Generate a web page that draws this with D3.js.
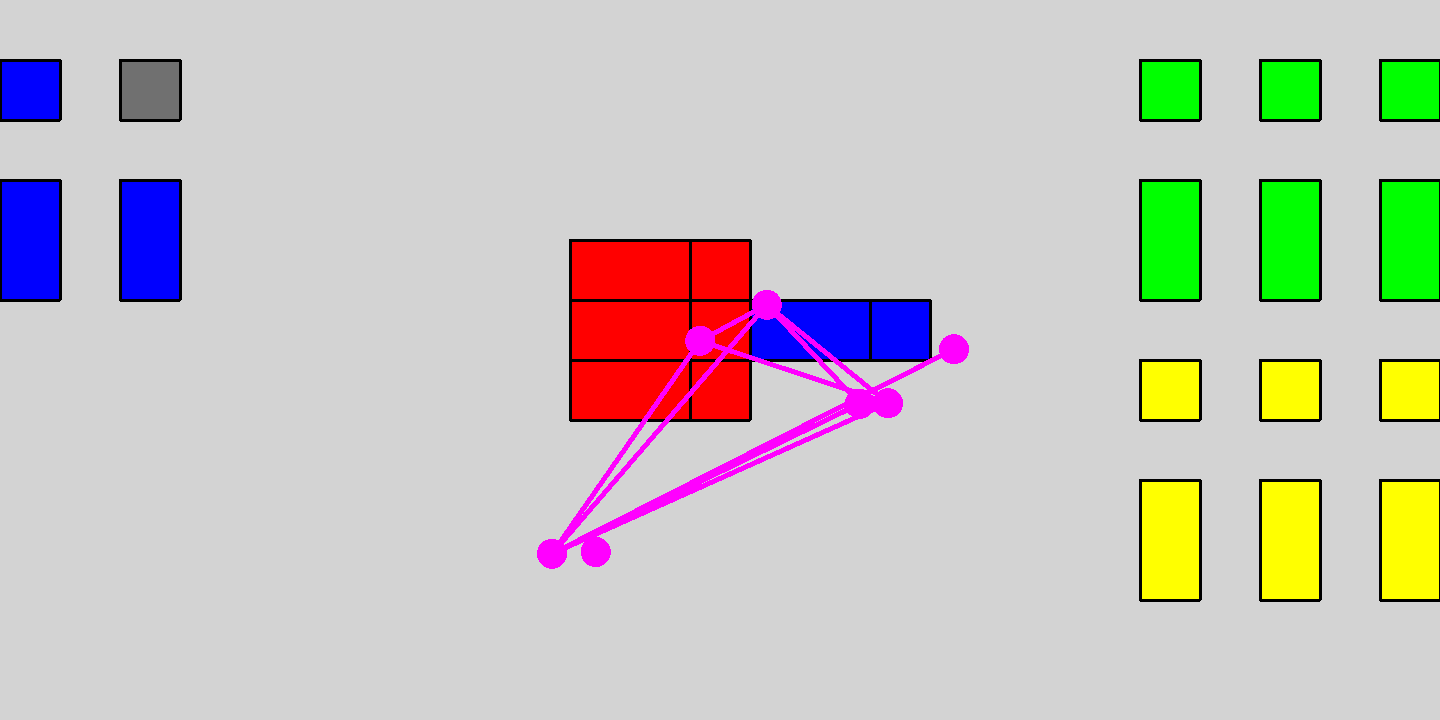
<!DOCTYPE html>
<html>
<head>
<meta charset="utf-8">
<script src="https://cdn.jsdelivr.net/npm/d3@7"></script>
<style>
  html, body { margin: 0; padding: 0; background: #d3d3d3; overflow: hidden; }
  svg { display: block; }
</style>
</head>
<body>
<script>
var W = 1440, H = 720;
var cols = 24, rows = 12;

// blocks in grid cells: [col, row, width, height, colour]
var leftBlocks = [
  [0, 1, 1, 1, 'blue'], [2, 1, 1, 1, '#707070'],
  [0, 3, 1, 2, 'blue'], [2, 3, 1, 2, 'blue']
];
var rightBlocks = [
  [19, 1, 1, 1, '#00ff00'], [21, 1, 1, 1, '#00ff00'], [23, 1, 1, 1, '#00ff00'],
  [19, 3, 1, 2, '#00ff00'], [21, 3, 1, 2, '#00ff00'], [23, 3, 1, 2, '#00ff00'],
  [19, 6, 1, 1, 'yellow'], [21, 6, 1, 1, 'yellow'], [23, 6, 1, 1, 'yellow'],
  [19, 8, 1, 2, 'yellow'], [21, 8, 1, 2, 'yellow'], [23, 8, 1, 2, 'yellow']
];
var redBlocks = [
  [9.5, 4, 2, 1, 'red'], [11.5, 4, 1, 1, 'red'],
  [9.5, 5, 2, 1, 'red'], [11.5, 5, 1, 1, 'red'],
  [9.5, 6, 2, 1, 'red'], [11.5, 6, 1, 1, 'red']
];
var blueBlocks = [
  [12.5, 5, 2, 1, 'blue'], [14.5, 5, 1, 1, 'blue']
];

// nodes in grid units
var nodeNames = ['A', 'B', 'C', 'D', 'E', 'F', 'G'];
var nodeX = [12.78, 11.67, 15.9, 14.33, 14.8, 9.2, 9.93];
var nodeY = [5.08, 5.68, 5.82, 6.73, 6.72, 9.23, 9.2];
var links = [
  ['A', 'B'], ['A', 'F'], ['B', 'F'], ['A', 'D'], ['A', 'E'],
  ['B', 'E'], ['C', 'F'], ['F', 'D'], ['F', 'E']
];

var x = d3.scaleLinear().domain([0, cols]).range([0, W]);
var y = d3.scaleLinear().domain([0, rows]).range([0, H]);

var svg = d3.select('body').append('svg')
  .attr('width', W)
  .attr('height', H)
  .style('background', '#d3d3d3');

var blocks = leftBlocks.concat(rightBlocks, redBlocks, blueBlocks);

svg.append('g').selectAll('rect')
  .data(blocks)
  .enter().append('rect')
  .attr('x', function(d){ return x(d[0]); })
  .attr('y', function(d){ return y(d[1]); })
  .attr('width', function(d){ return x(d[2]) - x(0); })
  .attr('height', function(d){ return y(d[3]) - y(0); })
  .attr('shape-rendering', 'crispEdges')
  .style('fill', function(d){ return d[4]; })
  .style('stroke', 'black')
  .style('stroke-width', '3px')
  .style('stroke-linejoin', 'round');

var nodes = nodeNames.map(function(n, i){
  return {name: n, x: nodeX[i], y: nodeY[i]};
});
var byName = {};
nodes.forEach(function(n){ byName[n.name] = n; });

svg.append('g').selectAll('line')
  .data(links)
  .enter().append('line')
  .attr('x1', function(d){ return x(byName[d[0]].x); })
  .attr('y1', function(d){ return y(byName[d[0]].y); })
  .attr('x2', function(d){ return x(byName[d[1]].x); })
  .attr('y2', function(d){ return y(byName[d[1]].y); })
  .attr('shape-rendering', 'crispEdges')
  .style('stroke', 'magenta')
  .style('stroke-width', '5px');

svg.append('g').selectAll('circle')
  .data(nodes)
  .enter().append('circle')
  .attr('cx', function(d){ return x(d.x); })
  .attr('cy', function(d){ return y(d.y); })
  .attr('r', 15)
  .attr('shape-rendering', 'crispEdges')
  .style('fill', 'magenta');
</script>
</body>
</html>
